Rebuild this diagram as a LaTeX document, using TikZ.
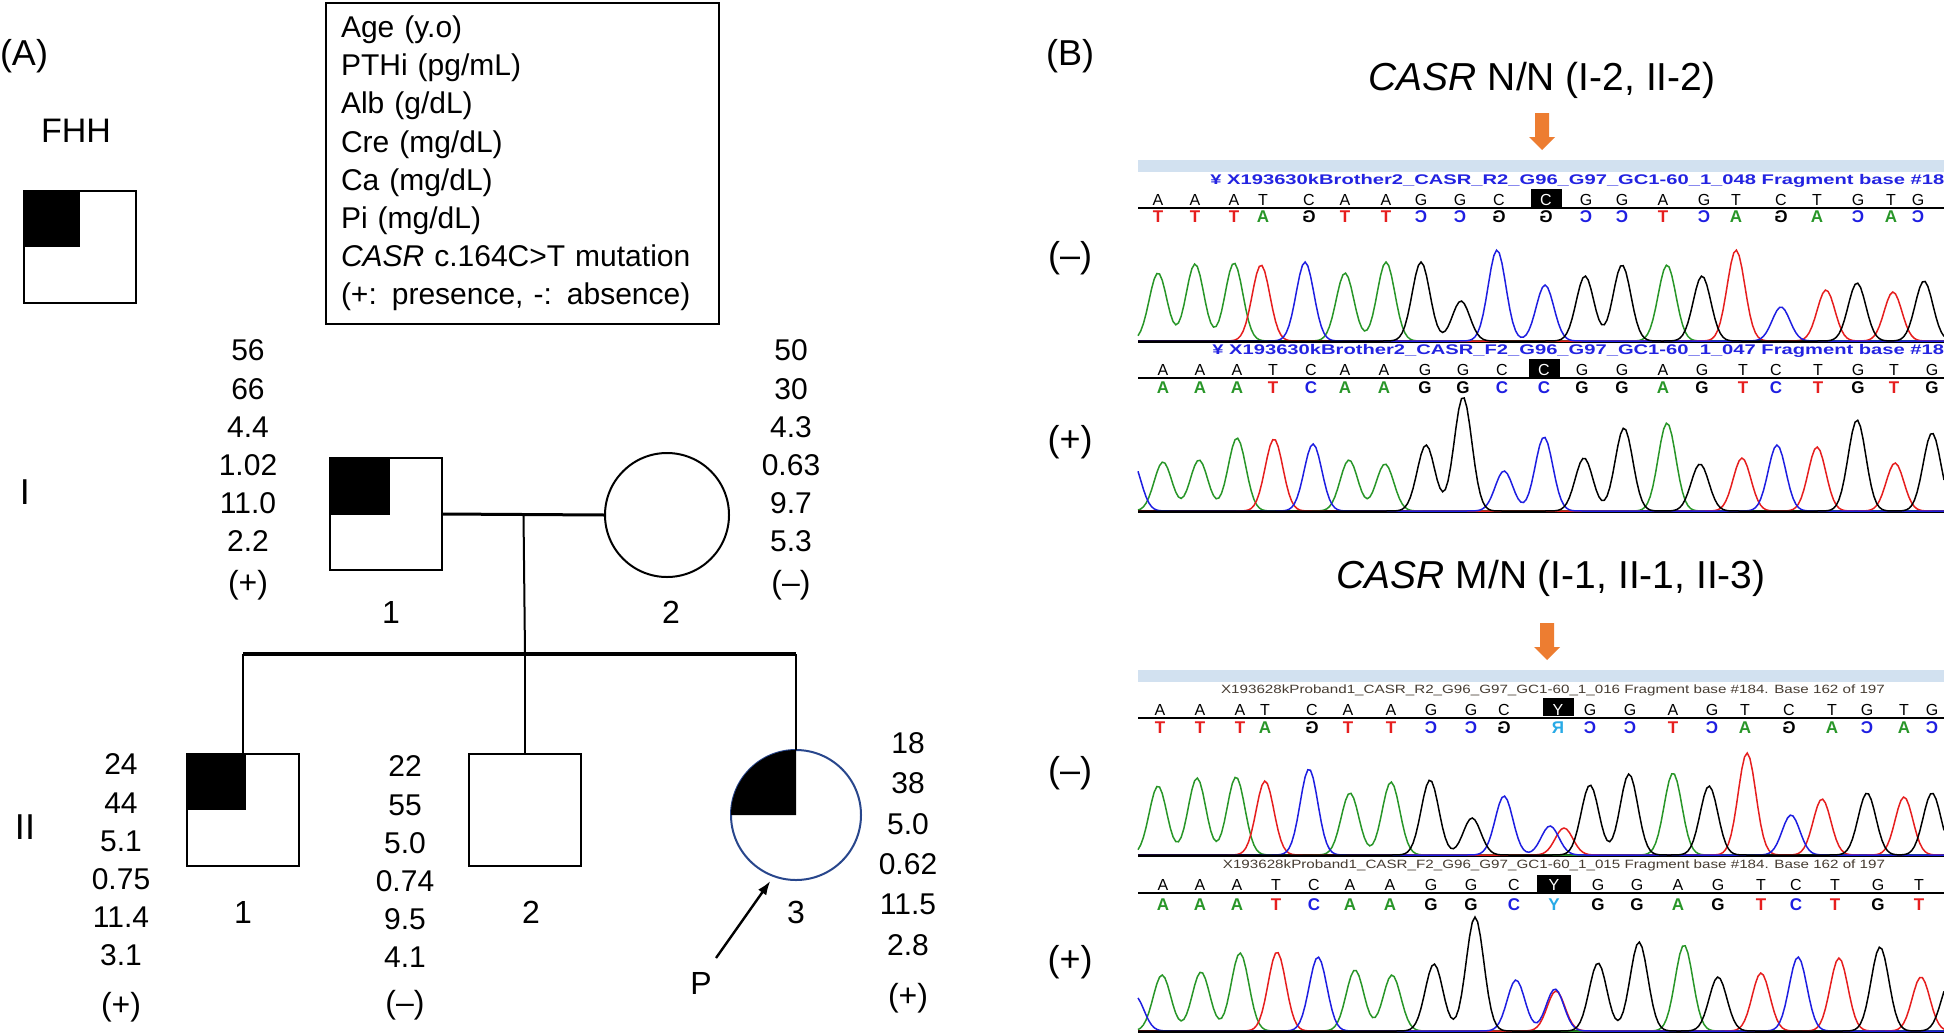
\documentclass[tikz,border=0pt]{standalone}
\usepackage{fontspec}
\setmainfont{Liberation Sans}
\usepackage{graphicx}
\usetikzlibrary{arrows.meta,positioning,calc}

\definecolor{trgreen}{RGB}{40,150,40}
\definecolor{trred}{RGB}{230,30,30}
\definecolor{trblue}{RGB}{30,30,225}
\definecolor{trcyan}{RGB}{40,170,230}
\definecolor{hdrblue}{RGB}{35,35,225}
\definecolor{hdrgray}{RGB}{70,60,50}
\definecolor{barblue}{RGB}{210,225,240}
\definecolor{arrorange}{RGB}{237,125,49}
\definecolor{pedblue}{RGB}{40,70,140}

\newcommand{\baseA}{\textcolor{trgreen}{A}}
\newcommand{\baseT}{\textcolor{trred}{T}}
\newcommand{\baseG}{\textcolor{black}{G}}
\newcommand{\baseC}{\textcolor{trblue}{C}}
\newcommand{\baseY}{\textcolor{trcyan}{Y}}
\newcommand{\revG}{\reflectbox{G}}
\newcommand{\revC}{\textcolor{trblue}{\reflectbox{C}}}
\newcommand{\revR}{\textcolor{trcyan}{\reflectbox{R}}}

\begin{document}
\begin{tikzpicture}[x=0.5pt, y=-0.5pt,
    declare function={pk(\pkx,\pkm,\pkh)=\pkh*exp(-min(((\pkx-\pkm)/12.5)*((\pkx-\pkm)/12.5),20));},
    male/.style={draw, line width=1pt, minimum size=56pt, inner sep=0pt, outer sep=0pt},
    female/.style={draw, circle, line width=1pt, minimum size=62pt, inner sep=0pt, outer sep=0pt},
    proband/.style={draw=pedblue, circle, line width=1pt, minimum size=65pt, inner sep=0pt, outer sep=0pt},
    pedline/.style={line width=1pt},
    marline/.style={line width=1.5pt},
    sibline/.style={line width=2pt},
    vals/.style={align=center, inner sep=0pt, font=\fontsize{15}{19.1}\selectfont},
    sign/.style={inner sep=0pt, font=\fontsize{16}{18}\selectfont},
    idlab/.style={inner sep=0pt, font=\fontsize{16}{18}\selectfont},
    panel/.style={inner sep=0pt, font=\fontsize{18}{20}\selectfont},
    ttl/.style={inner sep=0pt, font=\fontsize{19.5}{22}\selectfont},
    legbox/.style={draw, line width=1pt, text width=181.5pt, align=left, inner xsep=7.5pt,
      minimum height=160.5pt, font=\fontsize{15}{19.1}\selectfont},
    hdr1/.style={inner sep=0pt, text=hdrblue, font=\bfseries\fontsize{7}{8}\selectfont},
    hdr2/.style={inner sep=0pt, text=hdrgray, font=\fontsize{6}{7}\selectfont},
    basetop/.style={inner sep=0pt, font=\fontsize{8}{9}\selectfont},
    basecomp/.style={inner sep=0pt, font=\bfseries\fontsize{8.5}{9}\selectfont},
    hilite/.style={fill=black, inner sep=0pt, minimum width=15.5pt, minimum height=9pt},
    sep/.style={line width=1pt},
    axis/.style={line width=1.5pt},
    grn/.style={trgreen, line width=0.75pt},
    rd/.style={trred, line width=0.75pt},
    bl/.style={trblue, line width=0.75pt},
    bk/.style={black, line width=0.75pt},
    parrow/.style={-{Latex[length=7pt, width=5pt]}, line width=1.2pt, shorten >=3pt}
  ]
    \fill[white] (0,0) rectangle (1944,1034);
    \useasboundingbox (0,0) rectangle (1944,1034);

    % panel A
    \node[panel] (lab-a) at (24,56) {(A)};
    \node[inner sep=0pt, font=\fontsize{17}{19}\selectfont] (fhh-lab) at (76,131) {FHH};
    \node[male] (fhh) at (80,247) {};
    \fill (fhh.north west) rectangle ++(56,56);

    \node[legbox, anchor=north west] (legend) at (325,2) {Age (y.o)\\PTHi (pg/mL)\\Alb (g/dL)\\Cre (mg/dL)\\Ca (mg/dL)\\Pi (mg/dL)\\\textit{CASR} c.164C>T mutation\\(+: presence, -: absence)};

    \node[panel] (gen1) at (25,492) {I};
    \node[panel] (gen2) at (25,827) {II};

    \node[male] (i1) at (386,514) {};
    \fill (i1.north west) rectangle ++(60,57);
    \node[female] (i2) at (667,515) {};
    \node[male] (ii1) at (243,810) {};
    \fill (ii1.north west) rectangle ++(59,56);
    \node[male] (ii2) at (525,810) {};
    \node[proband] (ii3) at (796,815) {};
    \fill (ii3.center) -- (ii3.west) arc[start angle=180, end angle=90, radius=32.5pt] -- cycle;

    \coordinate (mid) at ($(i1.east)!0.5!(i2.west)$);
    \coordinate (sibm) at (525,654);
    \draw[marline] (i1.east) -- (i2.west);
    \draw[pedline] (mid) -- (sibm);
    \draw[sibline] (ii1.north |- sibm) -- (ii3.north |- sibm);
    \draw[pedline] (ii1.north |- sibm) -- (ii1.north);
    \draw[pedline] (ii2.north |- sibm) -- (ii2.north);
    \draw[pedline] (ii3.north |- sibm) -- (ii3.north);

    \node[idlab] (n-i1) at (391,612) {1};
    \node[idlab] (n-i2) at (671,612) {2};
    \node[idlab] (n-ii1) at (243,912) {1};
    \node[idlab] (n-ii2) at (531,912) {2};
    \node[idlab] (n-ii3) at (796,912) {3};

    \node[vals] (v-i1) at (248,446) {56\\66\\4.4\\1.02\\11.0\\2.2};
    \node[sign] (s-i1) at (248,585) {(+)};
    \node[vals] (v-i2) at (791,446) {50\\30\\4.3\\0.63\\9.7\\5.3};
    \node[sign] (s-i2) at (791,585) {(–)};
    \node[vals] (v-ii1) at (121,860) {24\\44\\5.1\\0.75\\11.4\\3.1};
    \node[sign] (s-ii1) at (121,1007) {(+)};
    \node[vals] (v-ii2) at (405,862) {22\\55\\5.0\\0.74\\9.5\\4.1};
    \node[sign] (s-ii2) at (405,1005) {(–)};
    \node[vals, font=\fontsize{15}{20.2}\selectfont] (v-ii3) at (908,844) {18\\38\\5.0\\0.62\\11.5\\2.8};
    \node[sign] (s-ii3) at (908,998) {(+)};

    \node[idlab] (p-lab) at (701,983) {P};
    \coordinate (ptail) at (716,958);
    \draw[parrow] (ptail) -- (ii3.250);

    % panel B
    \node[panel] (lab-b) at (1070,56) {(B)};
    \node[panel] (m-1) at (1070,258) {(–)};
    \node[panel] (p-1) at (1070,442) {(+)};
    \node[panel] (m-2) at (1070,773) {(–)};
    \node[panel] (p-2) at (1070,962) {(+)};

    \node[ttl] (t-nn) at (1542,80) {\textit{CASR} N/N (I-2, II-2)};
    \node[ttl] (t-mn) at (1551,578) {\textit{CASR} M/N (I-1, II-1, II-3)};
    \fill[arrorange] (1535,113) -- (1549,113) -- (1549,137) -- (1555,137) -- (1542,150) -- (1529,137) -- (1535,137) -- cycle;
    \fill[arrorange] (1540,623) -- (1554,623) -- (1554,647) -- (1560,647) -- (1547,660) -- (1534,647) -- (1540,647) -- cycle;

    % N/N reverse
    \fill[barblue] (1138,160) rectangle (1944,172);
    \node[hdr1, anchor=west] (h1) at (1210,181) {\scalebox{1.44}[1]{¥ X193630kBrother2\_CASR\_R2\_G96\_G97\_GC1-60\_1\_048 Fragment base \#18}};
    \node[hilite] (hl1) at (1546,198) {};
    \draw[sep] (1138,208) -- (1944,208);
    \foreach \px/\tb/\cb [count=\k] in {1158/A/\baseT, 1195/A/\baseT, 1234/A/\baseT, 1263/T/\baseA, 1309/C/\revG, 1345/A/\baseT, 1386/A/\baseT, 1421/G/\revC, 1460/G/\revC, 1499/C/\revG, 1546/{\textcolor{white}{C}}/\revG, 1586/G/\revC, 1622/G/\revC, 1663/A/\baseT, 1704/G/\revC, 1736/T/\baseA, 1781/C/\revG, 1817/T/\baseA, 1858/G/\revC, 1891/T/\baseA, 1918/G/\revC}{
      \node[basetop] (ra\k) at (\px,200) {\tb};
      \node[basecomp] (rb\k) at (\px,217) {\cb};
    }
    \draw[axis] (1138,341) -- (1944,341);
    \draw[grn] plot[domain=1138:1944, samples=300] (\x, {341-(pk(\x,1158,68)+pk(\x,1195,77)+pk(\x,1234,78)+pk(\x,1345,68)+pk(\x,1386,79)+pk(\x,1667,76))});
    \draw[rd] plot[domain=1138:1944, samples=300] (\x, {341-(pk(\x,1261,76)+pk(\x,1736,91)+pk(\x,1826,51)+pk(\x,1893,49))});
    \draw[bl] plot[domain=1138:1944, samples=300] (\x, {341-(pk(\x,1305,79)+pk(\x,1497,91)+pk(\x,1545,56)+pk(\x,1781,34))});
    \draw[bk] plot[domain=1138:1944, samples=300] (\x, {341-(pk(\x,1421,79)+pk(\x,1461,40)+pk(\x,1585,65)+pk(\x,1622,76)+pk(\x,1702,65)+pk(\x,1857,58)+pk(\x,1924,60))});

    % N/N forward
    \node[hdr1, anchor=west] (h2) at (1212,351) {\scalebox{1.44}[1]{¥ X193630kBrother2\_CASR\_F2\_G96\_G97\_GC1-60\_1\_047 Fragment base \#18}};
    \node[hilite] (hl2) at (1544,368) {};
    \draw[sep] (1138,378) -- (1944,378);
    \foreach \px/\tb/\cb [count=\k] in {1163/A/\baseA, 1200/A/\baseA, 1237/A/\baseA, 1273/T/\baseT, 1311/C/\baseC, 1345/A/\baseA, 1384/A/\baseA, 1425/G/\baseG, 1463/G/\baseG, 1502/C/\baseC, 1544/{\textcolor{white}{C}}/\baseC, 1582/G/\baseG, 1622/G/\baseG, 1663/A/\baseA, 1702/G/\baseG, 1743/T/\baseT, 1776/C/\baseC, 1818/T/\baseT, 1858/G/\baseG, 1894/T/\baseT, 1932/G/\baseG}{
      \node[basetop] (fa\k) at (\px,370) {\tb};
      \node[basecomp] (fb\k) at (\px,388) {\cb};
    }
    \draw[axis] (1138,511) -- (1944,511);
    \draw[grn] plot[domain=1138:1944, samples=300] (\x, {511-(pk(\x,1163,49)+pk(\x,1199,51)+pk(\x,1237,73)+pk(\x,1349,51)+pk(\x,1385,47)+pk(\x,1667,88))});
    \draw[rd] plot[domain=1138:1944, samples=300] (\x, {511-(pk(\x,1274,72)+pk(\x,1742,53)+pk(\x,1817,64)+pk(\x,1895,48))});
    \draw[bl] plot[domain=1138:1944, samples=300] (\x, {511-(pk(\x,1132,50)+pk(\x,1313,67)+pk(\x,1504,40)+pk(\x,1544,74)+pk(\x,1777,66))});
    \draw[bk] plot[domain=1138:1944, samples=300] (\x, {511-(pk(\x,1426,66)+pk(\x,1463,114)+pk(\x,1584,53)+pk(\x,1624,83)+pk(\x,1700,47)+pk(\x,1857,91)+pk(\x,1932,78))});

    % M/N reverse
    \fill[barblue] (1138,670) rectangle (1944,682);
    \node[hdr2] (h3) at (1553,690) {\scalebox{1.265}[1]{X193628kProband1\_CASR\_R2\_G96\_G97\_GC1-60\_1\_016 Fragment base \#184. Base 162 of 197}};
    \node[hilite] (hl3) at (1558,707) {};
    \draw[sep] (1138,718) -- (1944,718);
    \foreach \px/\tb/\cb [count=\k] in {1160/A/\baseT, 1200/A/\baseT, 1240/A/\baseT, 1265/T/\baseA, 1312/C/\revG, 1348/A/\baseT, 1391/A/\baseT, 1431/G/\revC, 1471/G/\revC, 1504/C/\revG, 1558/{\textcolor{white}{Y}}/\revR, 1590/G/\revC, 1630/G/\revC, 1673/A/\baseT, 1712/G/\revC, 1745/T/\baseA, 1789/C/\revG, 1832/T/\baseA, 1867/G/\revC, 1904/T/\baseA, 1932/G/\revC}{
      \node[basetop] (ma\k) at (\px,710) {\tb};
      \node[basecomp] (mb\k) at (\px,728) {\cb};
    }
    \draw[axis] (1138,855) -- (1944,855);
    \draw[grn] plot[domain=1138:1944, samples=300] (\x, {855-(pk(\x,1158,69)+pk(\x,1197,77)+pk(\x,1236,78)+pk(\x,1350,62)+pk(\x,1391,73)+pk(\x,1673,82))});
    \draw[rd] plot[domain=1138:1944, samples=300] (\x, {855-(pk(\x,1265,74)+pk(\x,1564,27)+pk(\x,1747,102)+pk(\x,1822,56)+pk(\x,1904,58))});
    \draw[bl] plot[domain=1138:1944, samples=300] (\x, {855-(pk(\x,1309,86)+pk(\x,1504,59)+pk(\x,1550,29)+pk(\x,1791,40))});
    \draw[bk] plot[domain=1138:1944, samples=300] (\x, {855-(pk(\x,1430,75)+pk(\x,1472,37)+pk(\x,1590,70)+pk(\x,1629,81)+pk(\x,1709,69)+pk(\x,1867,62)+pk(\x,1932,62))});

    % M/N forward
    \node[hdr2] (h4) at (1554,865) {\scalebox{1.265}[1]{X193628kProband1\_CASR\_F2\_G96\_G97\_GC1-60\_1\_015 Fragment base \#184. Base 162 of 197}};
    \node[hilite, minimum width=17pt, minimum height=8.5pt] (hl4) at (1554,883.5) {};
    \draw[sep] (1138,893) -- (1944,893);
    \foreach \px/\tb/\cb [count=\k] in {1163/A/\baseA, 1200/A/\baseA, 1237/A/\baseA, 1276/T/\baseT, 1314/C/\baseC, 1350/A/\baseA, 1390/A/\baseA, 1431/G/\baseG, 1471/G/\baseG, 1514/C/\baseC, 1554/{\textcolor{white}{Y}}/\baseY, 1598/G/\baseG, 1637/G/\baseG, 1678/A/\baseA, 1718/G/\baseG, 1761/T/\baseT, 1796/C/\baseC, 1835/T/\baseT, 1878/G/\baseG, 1919/T/\baseT}{
      \node[basetop] (na\k) at (\px,885) {\tb};
      \node[basecomp] (nb\k) at (\px,905) {\cb};
    }
    \draw[axis] (1138,1031) -- (1944,1031);
    \draw[grn] plot[domain=1138:1944, samples=300] (\x, {1031-(pk(\x,1162,56)+pk(\x,1201,59)+pk(\x,1240,78)+pk(\x,1355,61)+pk(\x,1392,56)+pk(\x,1684,86))});
    \draw[rd] plot[domain=1138:1944, samples=300] (\x, {1031-(pk(\x,1277,79)+pk(\x,1556,40)+pk(\x,1761,58)+pk(\x,1839,73)+pk(\x,1921,54))});
    \draw[bl] plot[domain=1138:1944, samples=300] (\x, {1031-(pk(\x,1135,35)+pk(\x,1318,74)+pk(\x,1516,51)+pk(\x,1555,42)+pk(\x,1798,74))});
    \draw[bk] plot[domain=1138:1944, samples=300] (\x, {1031-(pk(\x,1434,67)+pk(\x,1475,114)+pk(\x,1598,68)+pk(\x,1639,89)+pk(\x,1718,54)+pk(\x,1880,84)+pk(\x,1950,50))});
  \end{tikzpicture}
\end{document}
